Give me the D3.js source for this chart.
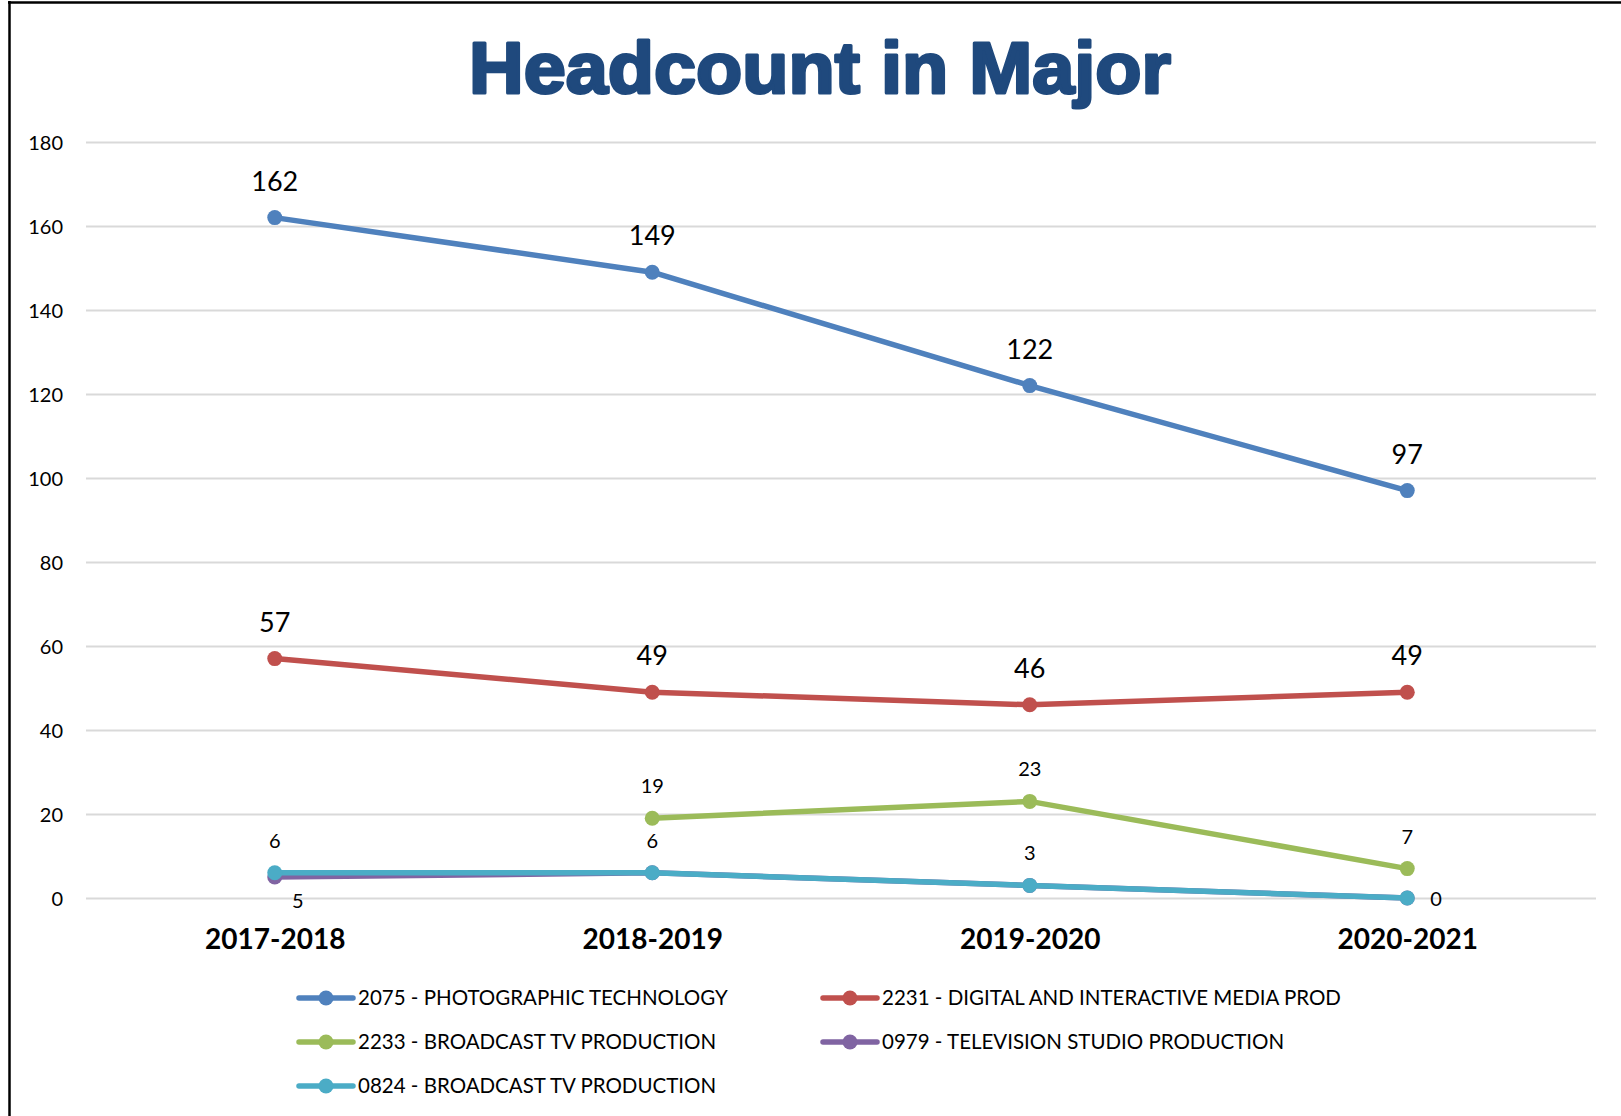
<!DOCTYPE html>
<html>
<head>
<meta charset="utf-8">
<script src="https://cdn.jsdelivr.net/npm/d3@7"></script>
<style>
  html, body { margin: 0; padding: 0; background: #fff; }
  svg { display: block; }
</style>
</head>
<body>
<svg id="chart" width="1621" height="1116"></svg>
<script>
// ---------- data ----------
const categories = ["2017-2018", "2018-2019", "2019-2020", "2020-2021"];
const seriesNames = [
  "2075 - PHOTOGRAPHIC TECHNOLOGY",
  "2231 - DIGITAL AND INTERACTIVE MEDIA PROD",
  "2233 - BROADCAST TV PRODUCTION",
  "0979 - TELEVISION STUDIO PRODUCTION",
  "0824 - BROADCAST TV PRODUCTION"
];
const photographicTech = [162, 149, 122, 97];
const digitalInteractive = [57, 49, 46, 49];
const broadcastTv2233 = [null, 19, 23, 7];
const televisionStudio = [5, 6, 3, 0];
const broadcastTv0824 = [6, 6, 3, 0];
const yTicks = [0, 20, 40, 60, 80, 100, 120, 140, 160, 180];
const titleText = "Headcount in Major";

// ---------- styles ----------
const colors = ["#4f81bd", "#c0504d", "#9bbb59", "#8064a2", "#4bacc6"];
const seriesValues = [photographicTech, digitalInteractive, broadcastTv2233, televisionStudio, broadcastTv0824];
// label placement per point: "above", "below-right", "right", or null (hidden)
const labelPlacement = [
  ["above", "above", "above", "above"],
  ["above", "above", "above", "above"],
  [null, "above", "above", "above"],
  ["below-right", null, null, null],
  ["above", "above", "above", "right"]
];
const labelSize = [27, 27, 20, 20, 20];

const svg = d3.select("#chart");
const FONT = "Lato, 'Open Sans', sans-serif";

const x = d3.scalePoint().domain(categories).range([86, 1596]).padding(0.5);
const y = d3.scaleLinear().domain([0, 180]).range([898, 142]);

// border (left + top)
svg.append("line").attr("x1", 9.5).attr("x2", 9.5).attr("y1", 1).attr("y2", 1116)
  .attr("stroke", "#000").attr("stroke-width", 2.5);
svg.append("line").attr("x1", 8).attr("x2", 1621).attr("y1", 2.5).attr("y2", 2.5)
  .attr("stroke", "#000").attr("stroke-width", 2.5);

// title
svg.append("text")
  .attr("x", 820).attr("y", 93)
  .attr("text-anchor", "middle")
  .attr("font-family", "'Liberation Sans', Arial, sans-serif")
  .attr("font-weight", "bold")
  .attr("font-size", 73)
  .attr("fill", "#1f497d")
  .attr("stroke", "#1f497d").attr("stroke-width", 3).attr("stroke-linejoin", "round")
  .attr("textLength", 702).attr("lengthAdjust", "spacingAndGlyphs")
  .text(titleText);

// gridlines + y axis labels
const yAxis = d3.axisLeft(y).tickValues(yTicks).tickSize(-(1596 - 86)).tickPadding(23);
const gy = svg.append("g").attr("transform", "translate(86,0)").call(yAxis);
gy.select(".domain").remove();
gy.selectAll(".tick line").attr("stroke", "#d9d9d9").attr("stroke-width", 2);
gy.selectAll(".tick text")
  .attr("font-family", FONT).attr("font-size", 20).attr("fill", "#000")
  .attr("dy", "0.36em");

// x axis labels
const xAxis = d3.axisBottom(x).tickSize(0).tickPadding(0);
const gx = svg.append("g").attr("transform", "translate(0,898)").call(xAxis);
gx.select(".domain").remove();
gx.selectAll(".tick text")
  .attr("font-family", FONT).attr("font-size", 28).attr("font-weight", "bold")
  .attr("fill", "#000").attr("dy", null).attr("y", 51);

// series
const line = d3.line()
  .defined(d => d.v !== null)
  .x(d => x(d.c)).y(d => y(d.v));

seriesValues.forEach((vals, si) => {
  const pts = vals.map((v, i) => ({ c: categories[i], v: v, i: i }));
  const g = svg.append("g");
  g.append("path").datum(pts).attr("d", line)
    .attr("fill", "none").attr("stroke", colors[si]).attr("stroke-width", 5.5)
    .attr("stroke-linejoin", "round").attr("stroke-linecap", "round");
  g.selectAll("circle").data(pts.filter(d => d.v !== null)).join("circle")
    .attr("cx", d => x(d.c)).attr("cy", d => y(d.v)).attr("r", 7.5)
    .attr("fill", colors[si]);
});

// data labels (drawn on top)
seriesValues.forEach((vals, si) => {
  const pts = vals.map((v, i) => ({ c: categories[i], v: v, pos: labelPlacement[si][i] }))
    .filter(d => d.v !== null && d.pos);
  svg.append("g").selectAll("text").data(pts).join("text")
    .attr("font-family", FONT).attr("font-size", labelSize[si]).attr("fill", "#000")
    .attr("text-anchor", d => d.pos === "right" ? "start" : "middle")
    .attr("x", d => d.pos === "right" ? x(d.c) + 23 : d.pos === "below-right" ? x(d.c) + 23 : x(d.c))
    .attr("y", d => d.pos === "above" ? y(d.v) - (labelSize[si] > 24 ? 27 : 25)
                  : d.pos === "below-right" ? y(d.v) + 31
                  : y(d.v) + 8)
    .text(d => d.v);
});

// legend
const legendCols = [299, 823];
const legendRows = [998, 1042, 1086];
const lg = svg.append("g");
seriesNames.forEach((name, si) => {
  const cx = legendCols[si % 2];
  const cy = legendRows[Math.floor(si / 2)];
  const item = lg.append("g").attr("transform", `translate(${cx},${cy})`);
  item.append("line").attr("x1", 0).attr("x2", 54).attr("y1", 0).attr("y2", 0)
    .attr("stroke", colors[si]).attr("stroke-width", 5.5).attr("stroke-linecap", "round");
  item.append("circle").attr("cx", 27).attr("cy", 0).attr("r", 7.5).attr("fill", colors[si]);
  item.append("text").attr("x", 59).attr("y", 7)
    .attr("font-family", FONT).attr("font-size", 20.5).attr("fill", "#000")
    .text(name);
});
</script>
</body>
</html>
